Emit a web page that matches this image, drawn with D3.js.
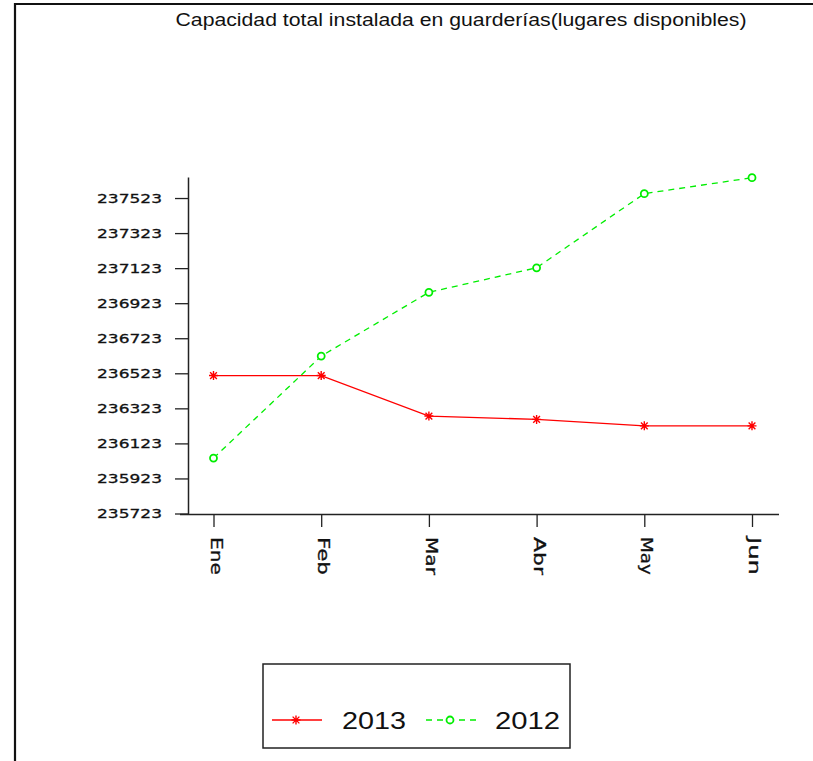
<!DOCTYPE html>
<html><head><meta charset="utf-8">
<script src="https://cdn.jsdelivr.net/npm/d3@7"></script>
<style>body{margin:0;background:#fff}svg{display:block}</style>
</head><body>
<script>
const months = ["Ene","Feb","Mar","Abr","May","Jun"];
const values2013 = [236510, 236510, 236279, 236260, 236223, 236223];
const values2012 = [236039, 236621, 236985, 237125, 237548, 237639];
const yTicks = [235723, 235923, 236123, 236323, 236523, 236723, 236923, 237123, 237323, 237523];
const title = "Capacidad total instalada en guarderías(lugares disponibles)";
const seriesNames = ["2013", "2012"];

const W = 813, H = 761;
const svg = d3.select("body").append("svg").attr("width", W).attr("height", H);
svg.append("rect").attr("width", W).attr("height", H).attr("fill", "#fff");
// frame (top & left visible)
svg.append("path").attr("d", `M15,${H} L15,4 L${W},4`).attr("fill","none")
  .attr("stroke","#111").attr("stroke-width",2.2);

svg.append("text").attr("x", 461).attr("y", 26).attr("text-anchor","middle")
  .attr("font-family","Liberation Sans, Arial, sans-serif").attr("font-size",17.5)
  .attr("textLength",571).attr("lengthAdjust","spacingAndGlyphs")
  .attr("fill","#111").text(title);

const x = d3.scalePoint().domain(months).range([213.5, 752]);
const y = d3.scaleLinear().domain([235723, 237643]).range([513.5, 177]);

// y axis
const yAx = svg.append("g").attr("transform","translate(188,0)")
  .call(d3.axisLeft(y).tickValues(yTicks).tickSize(13).tickSizeOuter(0).tickFormat(d3.format("d")));
yAx.select(".domain").attr("stroke","#222").attr("stroke-width",1.5);
yAx.selectAll(".tick line").attr("stroke","#222").attr("stroke-width",1.3);
yAx.selectAll(".tick text").attr("x",-26).attr("font-family","DejaVu Sans, sans-serif")
  .attr("font-size",13).attr("fill","#111").attr("stroke","#111").attr("stroke-width",0.3)
  .attr("textLength",65).attr("lengthAdjust","spacingAndGlyphs");

// x axis
const xAx = svg.append("g").attr("transform","translate(0,514)")
  .call(d3.axisBottom(x).tickSize(13).tickSizeOuter(0));
xAx.select(".domain").attr("d","M180,0.5H779").attr("stroke","#222").attr("stroke-width",1.5);
xAx.selectAll(".tick line").attr("stroke","#222").attr("stroke-width",1.3);
xAx.selectAll(".tick text").attr("font-family","DejaVu Sans, sans-serif").attr("font-size",15)
  .attr("fill","#111").attr("stroke","#111").attr("stroke-width",0.3)
  .attr("text-anchor","start").attr("dy",null)
  .attr("textLength",38).attr("lengthAdjust","spacingAndGlyphs")
  .attr("transform","rotate(90)").attr("x",23).attr("y",-1).attr("dominant-baseline","middle");

const line = d3.line().x((d,i)=>x(months[i])).y(d=>y(d));
const red = "#ff0000", green = "#00ee00";
svg.append("path").datum(values2013).attr("d",line).attr("fill","none").attr("stroke",red).attr("stroke-width",1.3);
svg.append("path").datum(values2012).attr("d",line).attr("fill","none").attr("stroke",green).attr("stroke-width",1.3).attr("stroke-dasharray","6,5");

function star(g, cx, cy, col){
  const s = 4.5;
  g.append("path").attr("d",`M${cx-s},${cy}H${cx+s}M${cx},${cy-s}V${cy+s}M${cx-s*0.75},${cy-s*0.75}L${cx+s*0.75},${cy+s*0.75}M${cx-s*0.75},${cy+s*0.75}L${cx+s*0.75},${cy-s*0.75}`)
   .attr("stroke",col).attr("stroke-width",1.4).attr("fill","none");
}
function circ(g, cx, cy, col){
  g.append("circle").attr("cx",cx).attr("cy",cy).attr("r",3.5).attr("fill","#fff").attr("stroke",col).attr("stroke-width",1.8);
}
const mk = svg.append("g");
values2013.forEach((v,i)=>star(mk, x(months[i]), y(v), red));
values2012.forEach((v,i)=>circ(mk, x(months[i]), y(v), green));

// legend
const lg = svg.append("g");
lg.append("rect").attr("x",263).attr("y",664).attr("width",307).attr("height",84)
  .attr("fill","#fff").attr("stroke","#222").attr("stroke-width",1.5);
lg.append("line").attr("x1",272).attr("x2",322).attr("y1",720).attr("y2",720).attr("stroke",red).attr("stroke-width",1.3);
star(lg, 296, 720, red);
lg.append("text").attr("x",342).attr("y",729).attr("font-family","Liberation Sans, Arial, sans-serif")
  .attr("font-size",24).attr("fill","#111").attr("textLength",64).attr("lengthAdjust","spacingAndGlyphs").text(seriesNames[0]);
lg.append("line").attr("x1",426).attr("x2",478).attr("y1",720).attr("y2",720).attr("stroke",green).attr("stroke-width",1.3).attr("stroke-dasharray","6,5");
circ(lg, 450, 720, green);
lg.append("text").attr("x",495).attr("y",729).attr("font-family","Liberation Sans, Arial, sans-serif")
  .attr("font-size",24).attr("fill","#111").attr("textLength",65).attr("lengthAdjust","spacingAndGlyphs").text(seriesNames[1]);
</script>
</body></html>
